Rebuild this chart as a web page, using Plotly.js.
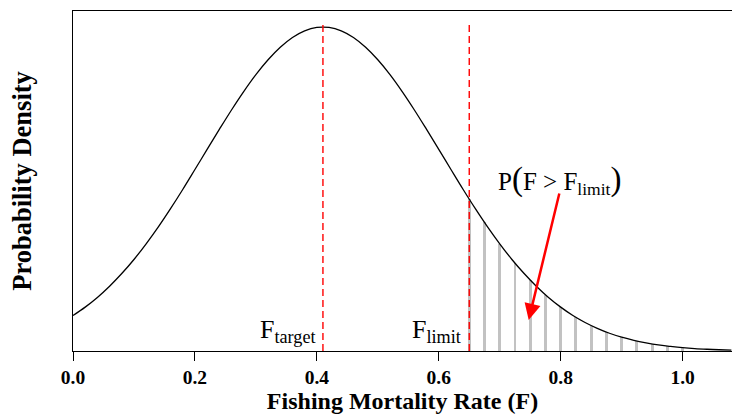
<!DOCTYPE html>
<html>
<head>
<meta charset="utf-8">
<script src="https://cdn.plot.ly/plotly-3.0.1.min.js"></script>
<style>html,body{margin:0;padding:0;background:#fff;}#chart{width:732px;height:414px;}</style>
</head>
<body>
<div id="chart"></div>
<script>
// Fishing mortality (F) grid and probability density
const fValues = [0.00,0.02,0.04,0.06,0.08,0.10,0.12,0.14,0.16,0.18,0.20,0.22,0.24,0.26,0.28,0.30,0.32,0.34,0.36,0.38,0.40,0.42,0.44,0.46,0.48,0.50,0.52,0.54,0.56,0.58,0.60,0.62,0.64,0.66,0.68,0.70,0.72,0.74,0.76,0.78,0.80,0.82,0.84,0.86,0.88,0.90,0.92,0.94,0.96,0.98,1.00,1.02,1.04,1.06,1.08];
const density = [0.224,0.277,0.338,0.409,0.489,0.578,0.677,0.784,0.899,1.020,1.146,1.273,1.399,1.522,1.638,1.745,1.839,1.918,1.980,2.022,2.043,2.043,2.022,1.980,1.918,1.839,1.745,1.638,1.522,1.399,1.273,1.146,1.020,0.899,0.784,0.677,0.578,0.489,0.409,0.338,0.277,0.224,0.180,0.143,0.112,0.087,0.067,0.051,0.038,0.029,0.021,0.015,0.011,0.008,0.006];
// Shaded tail P(F > Flimit): vertical hatch positions and heights
const shadeF = [0.65,0.675,0.70,0.725,0.75,0.775,0.80,0.825,0.85,0.875,0.90,0.925,0.95,0.975,1.00];
const shadeDensity = [0.959,0.813,0.677,0.555,0.447,0.355,0.277,0.213,0.160,0.119,0.087,0.063,0.044,0.031,0.021];
// Reference points
const refNames = ["target","limit"];
const refValues = [0.41, 0.65];
const xTickVals = [0.0,0.2,0.4,0.6,0.8,1.0];
const xTickText = ["0.0","0.2","0.4","0.6","0.8","1.0"];

const serif = "Liberation Serif, Times New Roman, serif";
const lineTop = 2.08;

const traces = [
  {type:"bar", x: shadeF, y: shadeDensity, width: 0.0048,
   marker:{color:"#c2c2c2", line:{width:0}}, hoverinfo:"skip"},
  {type:"scatter", mode:"lines", x: fValues, y: density, line:{color:"#000", width:1.3, shape:"spline"}, hoverinfo:"skip"}
];
refValues.forEach(v => traces.push({type:"scatter", mode:"lines", x:[v,v], y:[0,lineTop],
  line:{color:"#ff0000", width:1.4, dash:"7px,4px"}, hoverinfo:"skip"}));

const layout = {
  width:732, height:414,
  margin:{l:73, r:0, t:11, b:63},
  paper_bgcolor:"#fff", plot_bgcolor:"#fff",
  showlegend:false, hovermode:false, bargap:0,
  font:{family:serif, color:"#000"},
  xaxis:{range:[0,1.081], tickvals:xTickVals, ticktext:xTickText, ticks:"outside", ticklen:9, tickwidth:1, tickcolor:"#000",
         showline:true, linecolor:"#000", linewidth:1, mirror:true, showgrid:false, zeroline:false,
         tickfont:{family:serif, size:19.5, color:"#000", weight:"bold"},
         title:{text:"Fishing Mortality Rate (F)", font:{family:serif, size:24, color:"#000", weight:"bold"}, standoff:12}},
  yaxis:{range:[0,2.147], showticklabels:false, ticks:"", showline:true, linecolor:"#000", linewidth:1,
         showgrid:false, zeroline:false,
         title:{text:"Probability Density", font:{family:serif, size:26.5, color:"#000", weight:"bold"}, standoff:32}},
  annotations:[
    {x:refValues[0], y:0.012, xref:"x", yref:"y", xanchor:"right", yanchor:"bottom", xshift:-5, showarrow:false,
     text:"F<sub>"+refNames[0]+"</sub>", font:{family:serif, size:26, color:"#000"}},
    {x:refValues[1], y:0.012, xref:"x", yref:"y", xanchor:"right", yanchor:"bottom", xshift:-6, showarrow:false,
     text:"F<sub>"+refNames[1]+"</sub>", font:{family:serif, size:26, color:"#000"}},
    {x:0.798, y:1.08, xref:"x", yref:"y", xanchor:"center", yanchor:"middle", showarrow:false,
     text:'P<span style="font-size:33px">(</span>F &gt; F<sub>limit</sub><span style="font-size:33px">)</span>',
     font:{family:serif, size:25, color:"#000"}},
    {x:0.7475, y:0.196, xref:"x", yref:"y", ax:31, ay:-128, showarrow:true, text:"",
     arrowcolor:"#ff0000", arrowwidth:2.5, arrowhead:2, arrowsize:1.3}
  ]
};
Plotly.newPlot("chart", traces, layout, {staticPlot:true, displayModeBar:false});
</script>
</body>
</html>
